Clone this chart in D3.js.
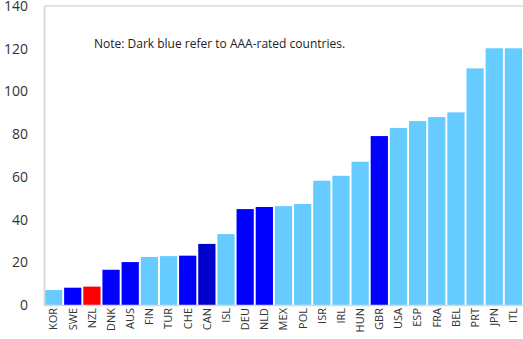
<!DOCTYPE html>
<html><head><meta charset="utf-8">
<script src="https://cdn.jsdelivr.net/npm/d3@7"></script>
<style>body{margin:0;background:#fff;}svg{display:block;}</style>
</head><body>
<svg id="c" width="523" height="339"></svg>
<script>
const categories = ["KOR","SWE","NZL","DNK","AUS","FIN","TUR","CHE","CAN","ISL","DEU","NLD","MEX","POL","ISR","IRL","HUN","GBR","USA","ESP","FRA","BEL","PRT","JPN","ITL"];
const values = [7.0,8.1,8.6,16.5,20.1,22.5,22.9,23.1,28.6,33.2,44.9,45.9,46.3,47.3,58.2,60.5,67.1,79.1,82.9,86.1,88.0,90.2,110.8,120.2,120.2];
const groups = ["other","aaa","nzl","aaa","aaa","other","other","aaa","aaa2","other","aaa","aaa","other","other","other","other","other","aaa","other","other","other","other","other","other","other"];
const yTicks = [0,20,40,60,80,100,120,140];
const note = "Note: Dark blue refer to AAA-rated countries.";

const colors = {other:"#66CCFF", aaa:"#0000FF", aaa2:"#0000CC", nzl:"#FF0000"};
const svg = d3.select("#c");
const m = {l:44, r:0, t:6, b:34};
const W = 523, H = 339;
const x = d3.scaleBand().domain(categories).range([m.l, W - m.r]).paddingInner(0.1).paddingOuter(0.05);
const y = d3.scaleLinear().domain([0,140]).range([H - m.b, m.t]);

// top border
svg.append("line").attr("x1", m.l).attr("x2", W).attr("y1", y(140)).attr("y2", y(140))
  .attr("stroke", "#d9d9d9").attr("stroke-width", 1.5);

svg.append("g").selectAll("rect").data(categories).join("rect")
  .attr("x", d => x(d)).attr("width", x.bandwidth())
  .attr("y", (d,i) => y(values[i])).attr("height", (d,i) => y(0) - y(values[i]))
  .attr("fill", (d,i) => colors[groups[i]]);

// axes
const ya = svg.append("g").attr("transform", `translate(${m.l},0)`)
  .call(d3.axisLeft(y).tickValues(yTicks).tickSize(0).tickPadding(16));
ya.select(".domain").attr("stroke", "#d9d9d9").attr("stroke-width", 2);
ya.selectAll("text").attr("font-family", "'Open Sans', 'Noto Sans', sans-serif").attr("font-size", 14).attr("fill", "#333");

const xa = svg.append("g").attr("transform", `translate(0,${y(0)})`)
  .call(d3.axisBottom(x).tickSize(0).tickPadding(0));
xa.select(".domain").attr("stroke", "#d9d9d9").attr("stroke-width", 1.5);
xa.selectAll("text")
  .attr("font-family", "'Open Sans', 'Noto Sans', sans-serif").attr("font-size", 11).attr("fill", "#333")
  .attr("transform", "rotate(-90)").attr("text-anchor", "end").attr("dx", "-3").attr("dy", "0.35em").attr("y", 0).attr("x", 0);

svg.append("text").attr("x", 94).attr("y", 48).text(note)
  .attr("font-family", "'Open Sans', 'Noto Sans', sans-serif").attr("font-size", 12).attr("fill", "#222");
</script>
</body></html>
